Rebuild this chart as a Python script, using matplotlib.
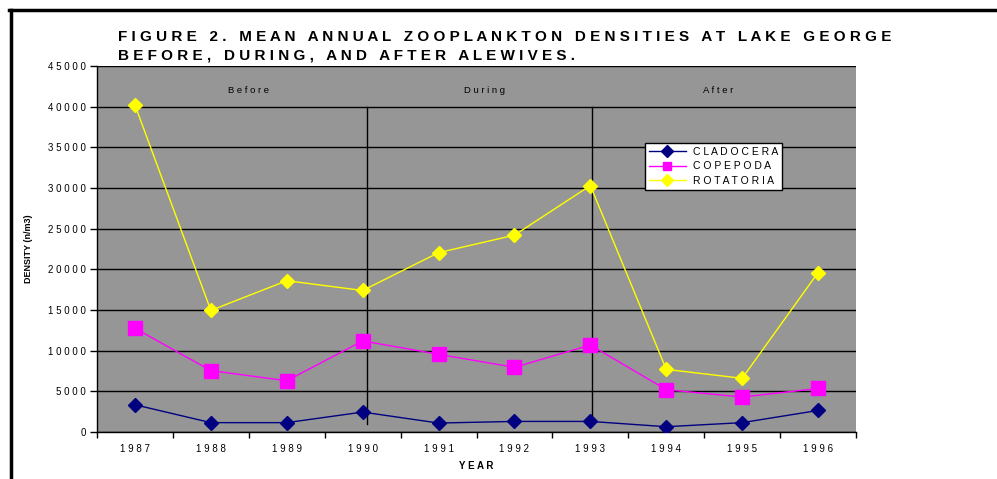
import matplotlib
matplotlib.use("Agg")
import matplotlib.pyplot as plt
from matplotlib.lines import Line2D

plt.rcParams['font.family'] = ['Liberation Sans', 'DejaVu Sans']

years = ["1987", "1988", "1989", "1990", "1991", "1992", "1993", "1994", "1995", "1996"]
cladocera = [3350, 1150, 1150, 2450, 1100, 1300, 1300, 650, 1150, 2650]
copepoda = [12750, 7550, 6300, 11200, 9550, 7950, 10700, 5200, 4300, 5350]
rotatoria = [40200, 14950, 18600, 17400, 22050, 24200, 30300, 7700, 6600, 19600]
periods = ["Before", "During", "After"]


def spaced(s):
    # fake the wide letter spacing of the original
    return " ".join(s)


fig = plt.figure(figsize=(9.97, 4.79), dpi=100)
ax = fig.add_axes([97 / 997, 47 / 479, 759 / 997, 366 / 479])
ax.set_facecolor("#969696")

x = list(range(len(years)))
ax.plot(x, cladocera, color="#000080", lw=1, marker="D", ms=7.5,
        label=spaced("CLADOCERA"), zorder=4)
ax.plot(x, copepoda, color="#FF00FF", lw=1, marker="s", ms=10,
        label=spaced("COPEPODA"), zorder=4)
ax.plot(x, rotatoria, color="#FFFF00", lw=1, marker="D", ms=7.5,
        label=spaced("ROTATORIA"), zorder=4)

# period separators and labels
for bx in [3.06, 6.02]:
    ax.plot([bx, bx], [1000, 40000], color="black", lw=1, zorder=3)
for px, name in zip([1.49, 4.61, 7.68], periods):
    ax.text(px, 42000, spaced(name), ha="center", va="center", fontsize=6.8)

ax.set_xlim(-0.5, len(years) - 0.5)
ax.set_ylim(0, 45000)
ax.set_yticks(range(0, 45001, 5000))
ax.set_yticklabels([spaced(str(v)) for v in range(0, 45001, 5000)], fontsize=7)
ax.set_xticks(x)
ax.set_xticklabels([spaced(y) for y in years], fontsize=7)
ax.set_xticks([i - 0.5 for i in range(len(years) + 1)], minor=True)
ax.tick_params(axis="x", which="major", length=0, pad=9)
ax.tick_params(axis="x", which="minor", length=4, direction="out", width=1)
ax.tick_params(axis="y", length=5, direction="out", width=1, pad=3)
ax.yaxis.grid(True, color="black", lw=1)
ax.set_axisbelow(True)
for side in ["top", "right"]:
    ax.spines[side].set_visible(False)
ax.spines["left"].set_linewidth(1)
ax.spines["bottom"].set_linewidth(1)

ax.set_ylabel("DENSITY (n/m3)", fontsize=6.5, fontweight="bold", labelpad=11)
ax.set_xlabel(spaced("YEAR"), fontsize=7, fontweight="bold", labelpad=5)

leg = ax.legend(loc="upper left", bbox_to_anchor=((645 - 97) / 759, (432 - 143) / 366),
                fontsize=7.5, frameon=True, fancybox=False, edgecolor="black",
                framealpha=1, borderpad=0.35, labelspacing=0.45, handlelength=3.6,
                handletextpad=0.7, borderaxespad=0)
leg.get_frame().set_linewidth(1)
for h in leg.legend_handles:
    h.set_markersize(6)

fig.text(118 / 997, 1 - 41 / 479,
         spaced("FIGURE 2. MEAN ANNUAL ZOOPLANKTON DENSITIES AT LAKE GEORGE"),
         fontsize=11, fontweight="bold", va="baseline")
fig.text(118 / 997, 1 - 60 / 479,
         spaced("BEFORE, DURING, AND AFTER ALEWIVES."),
         fontsize=11, fontweight="bold", va="baseline")

# outer frame, cut off at right and bottom
fig.add_artist(Line2D([10.5 / 997, 10.5 / 997], [0, 1 - 9.5 / 479],
                      color="black", lw=2.5, transform=fig.transFigure))
fig.add_artist(Line2D([9.3 / 997, 1], [1 - 9.5 / 479, 1 - 9.5 / 479],
                      color="black", lw=2.5, transform=fig.transFigure))

fig.savefig("out.png", dpi=100)
